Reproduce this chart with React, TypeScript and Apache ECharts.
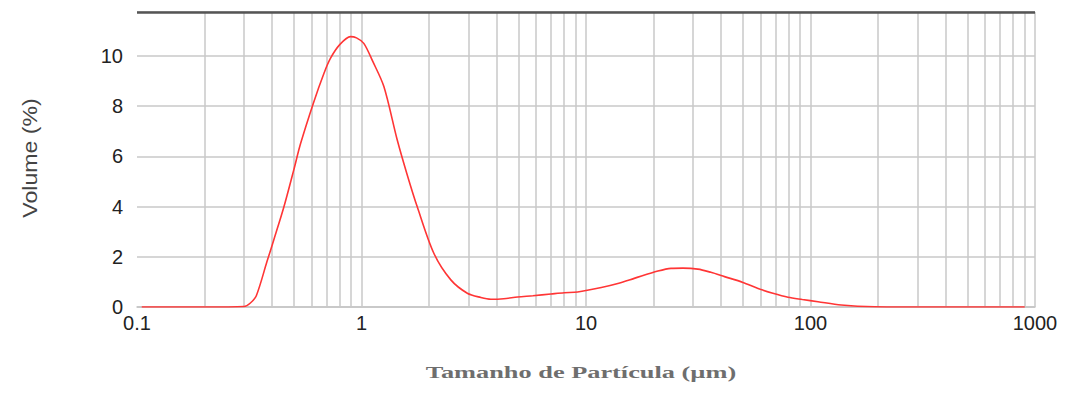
import React, { useEffect, useRef } from "react";
import * as echarts from "echarts";

const sizes = [
  0.105, 0.2, 0.3, 0.319, 0.34, 0.379, 0.406, 0.45, 0.499, 0.535, 0.612, 0.68, 0.727,
  0.8, 0.893, 0.95, 1.024, 1.12, 1.258, 1.443, 1.6, 1.773, 2.1, 2.5, 2.96, 3.4,
  3.77, 4.3, 4.96, 5.8, 6.98, 8, 9.18, 11.7, 14, 16.4, 20.9, 23.9, 27, 31.5, 36,
  41.4, 50, 58.4, 68, 79.4, 92, 108, 137, 193, 300, 500, 900,
];
const volumes = [
  0, 0, 0.02, 0.15, 0.45, 1.8, 2.65, 3.95, 5.45, 6.5, 8.15, 9.3, 9.9,
  10.45, 10.77, 10.72, 10.5, 9.8, 8.78, 6.65, 5.25, 3.98, 2.14, 1.08, 0.55, 0.38,
  0.31, 0.33, 0.4, 0.45, 0.52, 0.57, 0.6, 0.78, 0.95, 1.14, 1.43, 1.54, 1.55, 1.51, 1.38,
  1.21, 0.98, 0.74, 0.55, 0.39, 0.3, 0.21, 0.08, 0.01, 0, 0, 0,
];
const xTickLabels = ["0.1", "1", "10", "100", "1000"];
const yTickLabels = ["0", "2", "4", "6", "8", "10"];
const decades = [0.1, 1, 10, 100];
const multipliers = [2, 3, 4, 5, 6, 7, 8, 9, 10];

const xTitle = "Tamanho de Partícula (µm)";
const yTitle = "Volume (%)";

export default function App() {
  const ref = useRef<HTMLDivElement>(null);
  useEffect(() => {
    const chart = echarts.init(ref.current!, null, { renderer: "svg" });
    const gridLines: number[] = [];
    decades.forEach((d) => multipliers.forEach((m) => gridLines.push(+(d * m).toPrecision(6))));
    const yMax = 11.75;
    chart.setOption({
      animation: false,
      backgroundColor: "#ffffff",
      grid: { left: 137, right: 31, top: 12, bottom: 89 },
      xAxis: {
        type: "log",
        logBase: 10,
        min: 0.1,
        max: 1000,
        axisLine: { show: true, lineStyle: { color: "#c4c4c4", width: 1.5 } },
        axisTick: { show: false },
        splitLine: { show: false },
        axisLabel: {
          fontSize: 20,
          fontFamily: "Liberation Sans",
          color: "#222",
          margin: 6,
          formatter: (v: number) => {
            const s = String(+v.toPrecision(6));
            return xTickLabels.includes(s) ? s : "";
          },
        },
      },
      yAxis: {
        type: "value",
        min: 0,
        max: yMax,
        interval: 2,
        axisLine: { show: false },
        axisTick: { show: false },
        splitLine: { show: true, lineStyle: { color: "#c8c8c8", width: 1.5 } },
        axisLabel: {
          fontSize: 20,
          fontFamily: "Liberation Sans",
          color: "#222",
          margin: 14,
          showMaxLabel: false,
          formatter: (v: number) => {
            const s = String(v);
            return yTickLabels.includes(s) ? s : "";
          },
        },
      },
      graphic: [
        {
          type: "text",
          x: 581,
          y: 372,
          scaleX: 1.55,
          style: {
            text: xTitle,
            font: 'bold 17px "Liberation Serif"',
            fill: "#6e6e6e",
            textAlign: "center",
            textVerticalAlign: "middle",
          },
        },
        {
          type: "text",
          x: 30,
          y: 158,
          rotation: Math.PI / 2,
          scaleX: 1.1,
          style: {
            text: yTitle,
            font: '21px "Liberation Sans"',
            fill: "#444",
            textAlign: "center",
            textVerticalAlign: "middle",
          },
        },
      ],
      series: [
        {
          type: "line",
          data: [],
          z: 1,
          silent: true,
          markLine: {
            silent: true,
            symbol: ["none", "none"],
            label: { show: false },
            lineStyle: { color: "#c8c8c8", width: 1.5, type: "solid" },
            data: gridLines.map((v) => ({ xAxis: v })),
          },
        },
        {
          type: "line",
          data: [],
          z: 2,
          silent: true,
          markLine: {
            silent: true,
            symbol: ["none", "none"],
            label: { show: false },
            lineStyle: { color: "#555555", width: 2.5, type: "solid" },
            data: [{ yAxis: yMax }],
          },
        },
        {
          type: "line",
          z: 5,
          data: sizes.map((s, i) => [s, volumes[i]]),
          showSymbol: false,
          smooth: 0.3,
          lineStyle: { color: "#ff3535", width: 1.6 },
        },
      ],
    });
    return () => chart.dispose();
  }, []);
  return (
    <div
      ref={ref}
      style={{ position: "fixed", left: 0, top: 0, width: 1066, height: 396 }}
    />
  );
}
